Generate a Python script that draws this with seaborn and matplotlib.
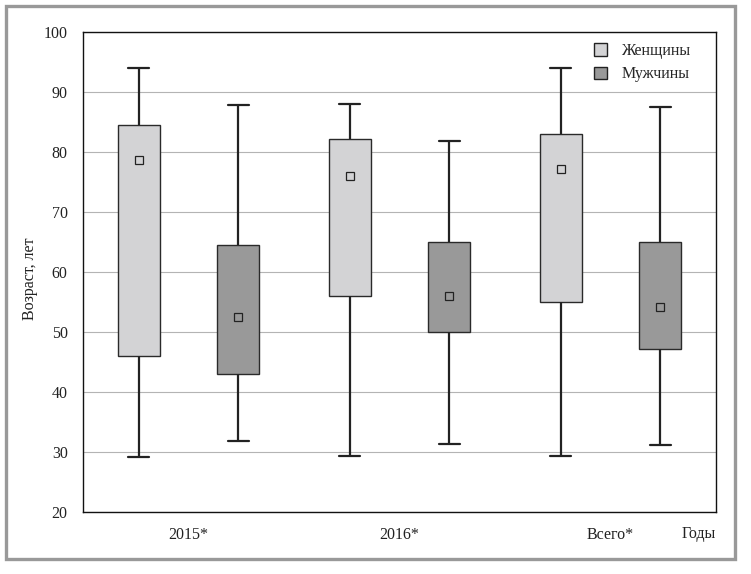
import numpy as np
import pandas as pd
import matplotlib
matplotlib.use("Agg")
import matplotlib.pyplot as plt
import seaborn as sns
from matplotlib.patches import Patch, Rectangle

# ---- data ----
years = ["2015*", "2016*", "Всего*"]
sexes = ["Женщины", "Мужчины"]
# five-number summaries: min, Q1, median, Q3, max
women_min = [29.1, 29.4, 29.4]
women_q1 = [46.0, 56.0, 55.0]
women_med = [78.6, 75.9, 77.1]
women_q3 = [84.4, 82.1, 83.0]
women_max = [93.9, 87.9, 93.9]
men_min = [31.9, 31.3, 31.1]
men_q1 = [43.0, 50.0, 47.2]
men_med = [52.5, 55.9, 54.1]
men_q3 = [64.5, 64.9, 64.9]
men_max = [87.8, 81.7, 87.4]
yticks = [20, 30, 40, 50, 60, 70, 80, 90, 100]

rows = []
for sex, stats in [("Женщины", (women_min, women_q1, women_med, women_q3, women_max)),
                   ("Мужчины", (men_min, men_q1, men_med, men_q3, men_max))]:
    for i, yr in enumerate(years):
        for arr in stats:
            rows.append({"year": yr, "sex": sex, "value": arr[i]})
df = pd.DataFrame(rows)

sns.set_style("white")
plt.rcParams["font.family"] = ["Liberation Serif", "DejaVu Serif"]

W, H = 751, 574
fig = plt.figure(figsize=(W / 100, H / 100), dpi=100)
ax = fig.add_axes([83 / W, (H - 512) / H, (716 - 83) / W, (512 - 31.5) / H])

c_w, c_m = "#d3d3d5", "#999999"
sns.boxplot(data=df, x="year", y="value", hue="sex", order=years, hue_order=sexes,
            palette=[c_w, c_m], width=0.942, gap=0.573, whis=(0, 100),
            showfliers=False, linewidth=1.0, linecolor="#2a2a2a", saturation=1,
            whiskerprops=dict(linewidth=1.6, color="#222222"),
            capprops=dict(linewidth=1.6, color="#222222"),
            medianprops=dict(linewidth=0, gid="median"),
            legend=False, ax=ax)

# square median markers at the centre of each (hidden) median line
for ln in list(ax.lines):
    if ln.get_gid() == "median":
        xs = np.asarray(ln.get_xdata(), dtype=float)
        ys = np.asarray(ln.get_ydata(), dtype=float)
        ax.plot([xs.mean()], [ys[0]], marker="s", markersize=6.0, mfc="none",
                mec="#222222", mew=0.9, zorder=5)

ax.set_xlim(-0.5, 2.5)
ax.set_ylim(20, 100)
ax.set_yticks(yticks)
ax.set_yticklabels([str(t) for t in yticks])
ax.yaxis.grid(True, color="#b4b4b4", linewidth=0.8)
ax.xaxis.grid(False)
ax.set_axisbelow(True)
for s in ax.spines.values():
    s.set_visible(True)
    s.set_color("#111111")
    s.set_linewidth(1.0)
ax.tick_params(axis="both", length=0, labelsize=11.5, colors="#222222")
ax.tick_params(axis="y", pad=11)
ax.tick_params(axis="x", pad=11)
ax.set_xlabel("")
ax.set_ylabel("Возраст, лет", fontsize=11.5, color="#222222")
ax.yaxis.set_label_coords(-0.071, 0.485)

ax.annotate("Годы", xy=(1, 0), xycoords="axes fraction", xytext=(0, -16),
            textcoords="offset points", ha="right", va="center",
            fontsize=11.5, color="#222222")

handles = [Patch(facecolor=c_w, edgecolor="#222222", linewidth=1.0, label=sexes[0]),
           Patch(facecolor=c_m, edgecolor="#222222", linewidth=1.0, label=sexes[1])]
fig.legend(handles=handles, loc="upper left", bbox_to_anchor=(594 / W, 1 - 43 / H),
           frameon=False, fontsize=11.5, handlelength=0.8, handleheight=0.8,
           handletextpad=0.9, labelspacing=0.45, borderpad=0, borderaxespad=0)

# grey outer frame
fig.patches.append(Rectangle((5.6 / W, (H - 559.3) / H), (735.4 - 5.6) / W, (559.3 - 5.6) / H,
                             transform=fig.transFigure, fill=False,
                             edgecolor="#999999", linewidth=2.4))

fig.savefig("out.png", dpi=100)
